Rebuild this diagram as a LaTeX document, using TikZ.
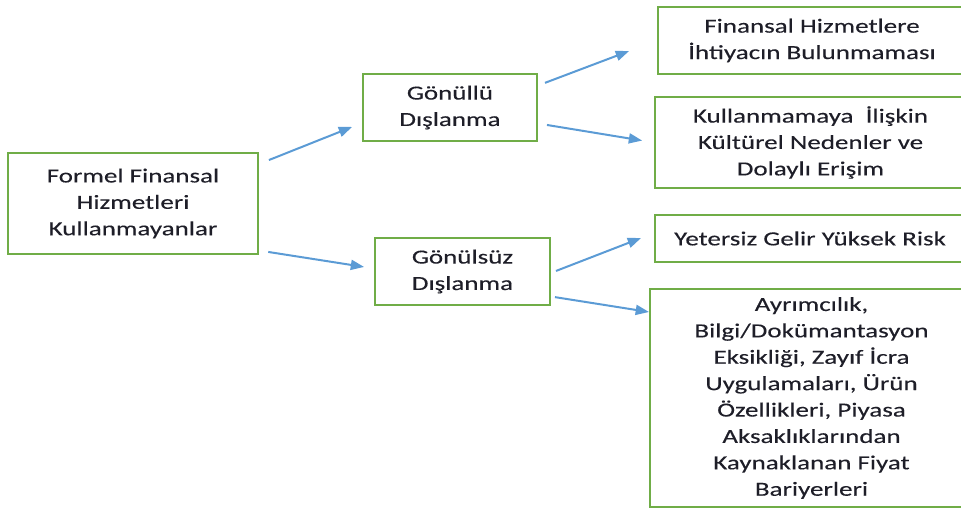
\documentclass[tikz,border=0pt]{standalone}
\usepackage{fontspec}
\setmainfont[FakeStretch=1.35,FakeBold=0.2]{Carlito}
\usetikzlibrary{arrows.meta}
\definecolor{boxgreen}{RGB}{112,173,71}
\definecolor{arrowblue}{RGB}{91,155,213}
\definecolor{txt}{RGB}{30,30,40}
\begin{document}
\begin{tikzpicture}[x=0.75pt,y=-0.75pt]
        % Styles
        \tikzstyle{box}=[draw=boxgreen,line width=1.5pt,align=center,text=txt,inner sep=0pt,font=\fontsize{15}{19.8}\selectfont]
        \tikzstyle{arr}=[draw=arrowblue,line width=1.5pt,-{Triangle[length=10pt,width=7.5pt]}]
        \useasboundingbox (0,0) rectangle (961,513);
        \clip (0,0) rectangle (961,513);
        %boxes
        \node[box,minimum width=187.5pt,minimum height=75.75pt] (formel) at (133,203.5) {Formel Finansal\\Hizmetleri\\Kullanmayanlar};
        \node[box,minimum width=130.5pt,minimum height=50.25pt] (gonullu) at (450,107.5) {Gönüllü\\Dışlanma};
        \node[box,minimum width=131.25pt,minimum height=50.25pt] (gonulsuz) at (462.5,271.5) {Gönülsüz\\Dışlanma};
        \node[box,minimum width=231pt,minimum height=50.25pt] (ihtiyac) at (812,40.5) {Finansal Hizmetlere\\İhtiyacın Bulunmaması};
        \node[box,minimum width=233.25pt,minimum height=68.25pt] (kultur) at (810.5,142.5) {Kullanmamaya~ İlişkin\\Kültürel Nedenler ve\\Dolaylı Erişim};
        \node[box,minimum width=232.5pt,minimum height=35.25pt] (gelir) at (810,238.5) {Yetersiz Gelir Yüksek Risk};
        \node[box,minimum width=242.25pt,minimum height=163.5pt] (fiyat) at (811.5,398) {Ayrımcılık,\\Bilgi/Dokümantasyon\\Eksikliği, Zayıf İcra\\Uygulamaları, Ürün\\Özellikleri, Piyasa\\Aksaklıklarından\\Kaynaklanan Fiyat\\Bariyerleri};
        %arrows
        \draw[arr,shorten <=8pt,shorten >=8pt] ([shift={(0,-39.5)}]formel.east) -- ([shift={(0,15.5)}]gonullu.west);
        \draw[arr,shorten <=7pt,shorten >=7.5pt] ([shift={(0,47)}]formel.east) -- ([shift={(0,-3)}]gonulsuz.west);
        \draw[arr,shorten <=5.6pt,shorten >=22.4pt] ([shift={(0,-22)}]gonullu.east) -- (ihtiyac.west);
        \draw[arr,shorten <=6.8pt,shorten >=9pt] ([shift={(0,16)}]gonullu.east) -- (kultur.west);
        \draw[arr,shorten <=4pt,shorten >=10.4pt] ([shift={(0,1.4)}]gonulsuz.east) -- ([shift={(0,-5.5)}]gelir.west);
        \draw[arr,shorten <=3pt] ([shift={(0,25)}]gonulsuz.east) -- ([shift={(0,-86)}]fiyat.west);
\end{tikzpicture}
\end{document}
